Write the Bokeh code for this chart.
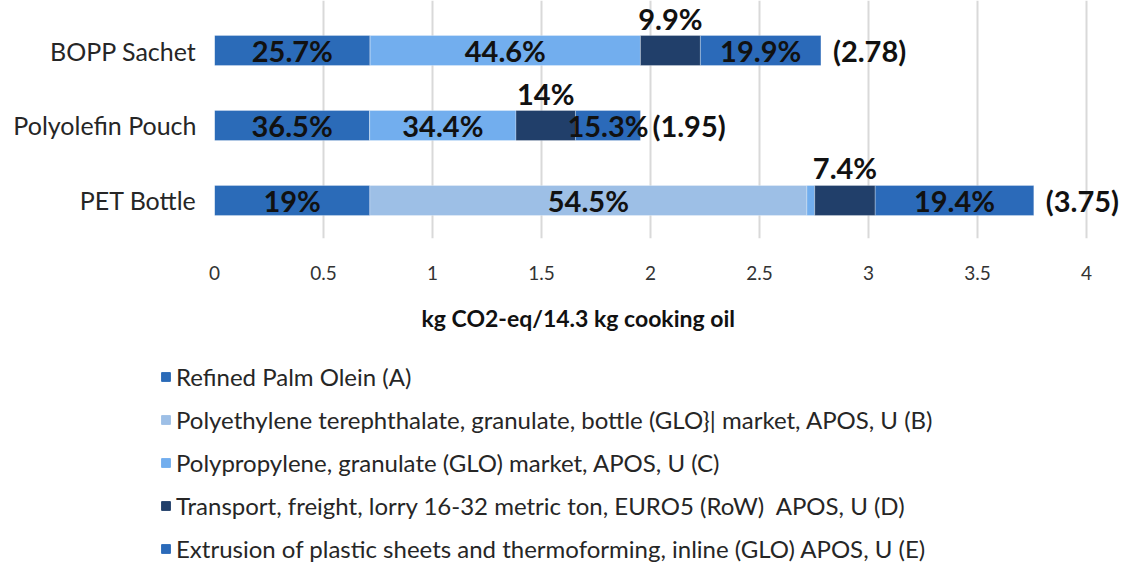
from bokeh.plotting import figure
from bokeh.models import ColumnDataSource, Range1d, FixedTicker, Legend, LegendItem, Title
from bokeh.layouts import column
from bokeh.core.properties import value
from bokeh.embed import file_html
from bokeh.resources import INLINE

categories = ["PET Bottle", "Polyolefin Pouch", "BOPP Sachet"]
series_names = [
    "Refined Palm Olein (A)",
    "Polyethylene terephthalate, granulate, bottle (GLO}| market, APOS, U (B)",
    "Polypropylene, granulate (GLO) market, APOS, U (C)",
    "Transport, freight, lorry 16-32 metric ton, EURO5 (RoW)  APOS, U (D)",
    "Extrusion of plastic sheets and thermoforming, inline (GLO) APOS, U (E)",
]
A = [0.7125, 0.712, 0.714]
B = [2.005, 0.0, 0.0]
C = [0.036, 0.671, 1.240]
D = [0.2775, 0.273, 0.275]
E = [0.7275, 0.298, 0.553]
pct_A = ["19%", "36.5%", "25.7%"]
pct_B = ["54.5%", "", ""]
pct_C = ["", "34.4%", "44.6%"]
pct_D = ["7.4%", "14%", "9.9%"]
pct_E = ["19.4%", "15.3%", "19.9%"]
totals = ["(3.75)", "(1.95)", "(2.78)"]
x_ticks = [0, 0.5, 1, 1.5, 2, 2.5, 3, 3.5, 4]

colors = ["#2b6bb8", "#9dbfe6", "#72aeee", "#213f6a", "#2b6ab9"]
keys = ["A", "B", "C", "D", "E"]
ys = list(range(len(categories)))

src = ColumnDataSource(dict(y=ys, A=A, B=B, C=C, D=D, E=E))

p = figure(width=1123, height=350, output_backend="svg", toolbar_location=None,
           x_range=Range1d(0, 4.17), y_range=Range1d(-0.507, 2.667),
           min_border_left=214, min_border_right=0, min_border_top=0, min_border_bottom=112)
p.frame_align = False
p.outline_line_color = None
p.background_fill_color = "white"

rs = p.hbar_stack(keys, y="y", height=0.4, color=colors, source=src,
                  line_color="white", line_alpha=0.35, line_width=0.8)

lab_x, lab_y, lab_t, top_x, top_y, top_t = [], [], [], [], [], []
series_vals = [A, B, C, D, E]
series_pct = [pct_A, pct_B, pct_C, pct_D, pct_E]
tot_x = []
for i in ys:
    start = 0.0
    for k, (vals, pcts) in enumerate(zip(series_vals, series_pct)):
        v = vals[i]
        t = pcts[i]
        if t:
            if k == 3:
                top_x.append(start + v / 2); top_y.append(i + 0.2); top_t.append(t)
            else:
                lab_x.append(start + v / 2); lab_y.append(i); lab_t.append(t)
        start += v
    tot_x.append(start)

lbl = dict(text_font=value("Lato"), text_font_style="bold", text_color="#111111",
           text_font_size="29px")
p.text(x=lab_x, y=lab_y, text=lab_t, text_align="center", text_baseline="middle", **lbl)
p.text(x=top_x, y=top_y, text=top_t, text_align="center", text_baseline="bottom", **lbl)
p.text(x=tot_x, y=ys, text=totals, text_align="left", text_baseline="middle", x_offset=12, **lbl)

p.xaxis.ticker = FixedTicker(ticks=x_ticks)
p.xaxis.major_label_overrides = {0: "0", 1: "1", 2: "2", 3: "3", 4: "4"}
p.xaxis.axis_line_color = None
p.xaxis.major_tick_line_color = None
p.xaxis.minor_tick_line_color = None
p.xaxis.major_label_standoff = 21
p.xaxis.major_label_text_font = "Lato"
p.xaxis.major_label_text_font_size = "19px"
p.xaxis.major_label_text_color = "#333333"

p.yaxis.ticker = FixedTicker(ticks=ys)
p.yaxis.major_label_overrides = {i: c for i, c in enumerate(categories)}
p.yaxis.axis_line_color = None
p.yaxis.major_tick_line_color = None
p.yaxis.minor_tick_line_color = None
p.yaxis.major_label_standoff = 12
p.yaxis.major_label_text_font = "Lato"
p.yaxis.major_label_text_font_size = "25px"
p.yaxis.major_label_text_color = "#262626"

p.ygrid.grid_line_color = None
p.xgrid.grid_line_color = "#d9d9d9"
p.xgrid.grid_line_width = 2

title = Title(text="kg CO2-eq/14.3 kg cooking oil", align="left", offset=207,
              text_font="Lato", text_font_style="bold", text_font_size="23px",
              text_color="#111111", standoff=38)
p.add_layout(title, "below")

# legend figure
p2 = figure(width=1123, height=219, output_backend="svg", toolbar_location=None,
            x_range=Range1d(0, 1), y_range=Range1d(0, 1),
            min_border_left=0, min_border_right=0, min_border_top=0, min_border_bottom=0)
p2.frame_align = False
p2.axis.visible = False
p2.grid.visible = False
p2.outline_line_color = None
leg_rs = p2.hbar_stack(keys, y="y", height=0.4, color=colors, source=src, visible=False)
legend = Legend(items=[LegendItem(label=n, renderers=[r]) for n, r in zip(series_names, leg_rs)],
                location=(160, 6), orientation="vertical",
                glyph_width=11, glyph_height=11, label_height=24, label_standoff=5, spacing=14,
                padding=0, margin=0, border_line_alpha=0, background_fill_alpha=0,
                label_text_font="Lato", label_text_font_size="24px", label_text_color="#262626")
p2.add_layout(legend)

layout = column(p, p2, spacing=0)
open("out.html", "w").write(file_html(layout, INLINE))
